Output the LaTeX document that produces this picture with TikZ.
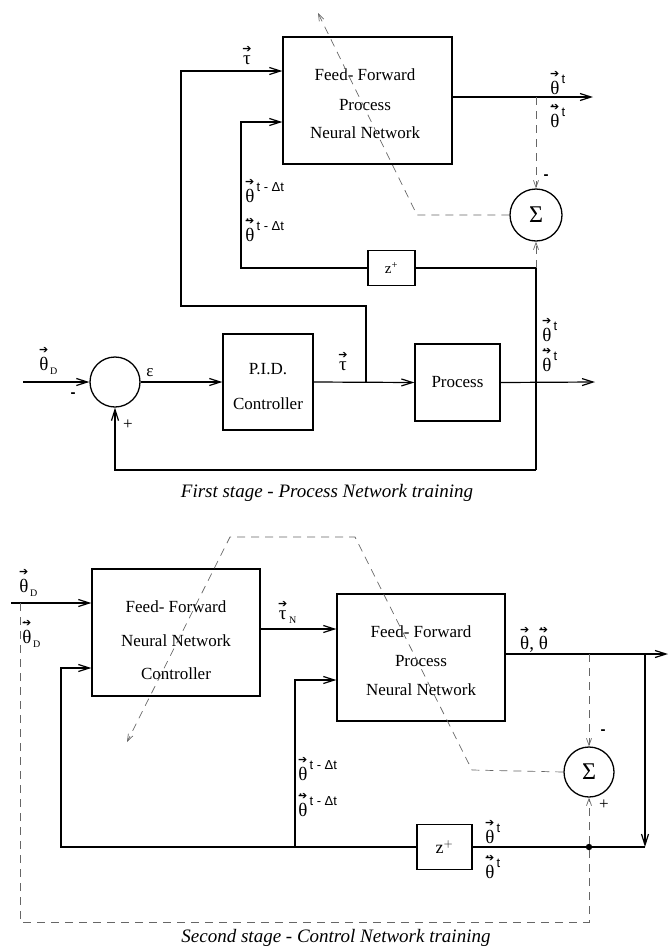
\documentclass[tikz,border=0pt]{standalone}
\usepackage{amsmath}
\usepackage{fontspec}
\setmainfont{Liberation Serif}
\newfontfamily\sfA{Liberation Sans}
\newfontfamily\dvs{DejaVu Sans}
\usetikzlibrary{arrows.meta}
\newcommand{\arr}{\text{\dvs\fontsize{11}{11}\selectfont ➔}}
\newcommand{\darr}{\text{\rlap{\raisebox{3.5pt}{\fontsize{16}{16}\selectfont\kern0.5pt.}}\dvs\fontsize{11}{11}\selectfont ➔}}
\newcommand{\thv}{$\overset{\arr}{\text{θ}}$}
\newcommand{\thdv}{$\overset{\darr}{\text{θ}}$}
\newcommand{\tav}{$\overset{\arr}{\text{τ}}$}
\newcommand{\supx}[1]{\raisebox{11pt}{\sfA\fontsize{13}{13}\selectfont\,#1}}
\newcommand{\subx}[1]{\raisebox{-4pt}{\fontsize{10}{10}\selectfont\,#1}}
\begin{document}
\begin{tikzpicture}[x=1pt,y=-1pt,font=\fontsize{17}{20}\selectfont,
  >={Straight Barb[length=11pt,width=7pt]},
  blk/.style={draw,line width=1.3pt,inner sep=0pt},
  sumc/.style={draw,circle,line width=1.3pt,inner sep=0pt,minimum size=#1},
  sumc/.default=50pt,
  wire/.style={line width=1.2pt},
  sig/.style={draw=black!60,line width=0.7pt,dash pattern=on 8pt off 6pt},
  sarr/.style={-{Straight Barb[length=7pt,width=5pt]}},
  lab/.style={inner sep=0pt,font=\fontsize{19}{21}\selectfont},
  sgn/.style={inner sep=0pt,font=\sfA\bfseries\fontsize{15}{15}\selectfont},
  captxt/.style={inner sep=0pt,font=\itshape\fontsize{19}{21}\selectfont}]
\useasboundingbox (0,0) rectangle (670,948);

% ================= First stage =================
\node[blk,minimum width=169pt,minimum height=127pt] (ffp1) at (367.5,100.5) {};
\node (ffp1a) at (365,75) {Feed- Forward};
\node (ffp1b) at (365,105) {Process};
\node (ffp1c) at (365,133) {Neural Network};
\node[sumc] (sum1) at (115,382) {};
\node[blk,minimum width=90pt,minimum height=96pt] (pid) at (268,382) {};
\node (pida) at (268,369) {P.I.D.};
\node (pidb) at (268,404) {Controller};
\node[blk,minimum width=85pt,minimum height=77pt] (proc) at (457.5,382.5) {Process};
\node[blk,minimum width=47pt,minimum height=35pt,font=\fontsize{15}{15}\selectfont] (z1) at (391.5,268) {z\textsuperscript{+}};
\node[sumc=52pt,font=\fontsize{24}{24}\selectfont] (sig1) at (536,215) {Σ};

\coordinate (thD1) at (23,382);
\draw[wire,->] (thD1) -- (sum1.west);
\draw[wire,->] (sum1.east) -- (pid.west);
\draw[wire,->] (pid.east) -- (proc.west);
\coordinate (out1) at (595,382);
\draw[wire,->] (proc.east) -- (out1);
\coordinate (tj) at (366,382);
\coordinate (tb) at (181,306);
\coordinate (tc) at (181,71);
\draw[wire,->] (tj) |- (tb) |- (ffp1.west |- tc);
\coordinate (bl1) at (536,470);
\draw[wire] (bl1) |- (z1.east);
\coordinate (zl1) at (241,122);
\draw[wire,->] (z1.west) -| (zl1) -- (ffp1.west |- zl1);
\draw[wire,->] (bl1) -| (sum1.south);
\coordinate (o1b) at (593,97);
\draw[wire,->] ([yshift=3.5pt]ffp1.east) -- (o1b);

\coordinate (d1) at (536,97);
\draw[sig,sarr] (d1) -- (sig1.north);
\coordinate (d2) at (536,268);
\draw[sig,sarr] (d2) -- (sig1.south);
\coordinate (bp1) at (417,215);
\coordinate (bp1t) at (318,13);
\draw[sig,sarr] (sig1.west) -- (bp1) -- (bp1t);

\node[lab] (l1) at (247,55) {\tav};
\node[lab,anchor=west] (l2) at (550,82) {\thv\supx{t}};
\node[lab,anchor=west] (l3) at (550,115) {\thdv\supx{t}};
\node[lab,anchor=west] (l4) at (245,190) {\thv\supx{t - Δt}};
\node[lab,anchor=west] (l5) at (245,229) {\thdv\supx{t - Δt}};
\node[sgn] (l6) at (546,177) {-};
\node[lab,anchor=west] (l7) at (542,329) {\thv\supx{t}};
\node[lab,anchor=west] (l8) at (542,359) {\thdv\supx{t}};
\node[lab] (l9) at (343,361) {\tav};
\node[lab,anchor=west] (l10) at (39,360) {\thv\subx{D}};
\node[sgn] (l11) at (73,395) {-};
\node (l12) at (150,373) {ε};
\node[inner sep=0pt] (l13) at (128,425) {+};
\node[captxt] (cap1) at (327,493) {First stage - Process Network training};

% ================= Second stage =================
\node[blk,minimum width=168pt,minimum height=127pt] (ctrl) at (176,632.5) {};
\node (ctrla) at (176,607) {Feed- Forward};
\node (ctrlb) at (176,641) {Neural Network};
\node (ctrlc) at (176,674) {Controller};
\node[blk,minimum width=168pt,minimum height=127pt] (ffp2) at (421,657.5) {};
\node (ffp2a) at (421,632) {Feed- Forward};
\node (ffp2b) at (421,661) {Process};
\node (ffp2c) at (421,690) {Neural Network};
\node[sumc] (sig2) at (589,772) {};
\node[font=\fontsize{24}{24}\selectfont] (sig2t) at (589,772) {Σ};
\node[blk,minimum width=55pt,minimum height=45pt,font=\fontsize{18}{18}\selectfont] (z2) at (444.5,847) {z$^{+}$};

\coordinate (thD2) at (11,603);
\draw[wire,->] (thD2) -- (ctrl.west |- thD2);
\coordinate (tn) at (260,629);
\draw[wire,->] (tn) -- (ffp2.west |- tn);
\coordinate (o2) at (505,654);
\coordinate (o2e) at (668,654);
\draw[wire,->] (o2) -- (o2e);
\coordinate (br) at (645,654);
\coordinate (brc) at (645,847);
\draw[wire,->] (br) -- (brc);
\coordinate (dot2) at (589,847);
\draw[wire] (brc) -- (dot2) -- (z2.east);
\coordinate (lb) at (61,847);
\coordinate (lt) at (61,668);
\draw[wire,->] (z2.west) -- (lb) -- (lt) -- (ctrl.west |- lt);
\coordinate (mj) at (295,847);
\coordinate (mt) at (295,680);
\draw[wire,->] (mj) -- (mt) -- (ffp2.west |- mt);
\fill (dot2) circle (3.2pt);

\coordinate (d3) at (589,654);
\draw[sig,sarr] (d3) -- (sig2.north);
\coordinate (dl1) at (20,603);
\coordinate (dl2) at (20,922);
\coordinate (dl3) at (589,922);
\draw[sig,sarr] (dl1) -- (dl2) -- (dl3) -- (sig2.south);
\coordinate (bq1) at (472,770);
\coordinate (bq2) at (355,537);
\coordinate (bq3) at (230,537);
\coordinate (bq4) at (127,742);
\draw[sig,sarr] (sig2.west) -- (bq1) -- (bq2) -- (bq3) -- (bq4);

\node[lab,anchor=west] (m1) at (19,582) {\thv\subx{D}};
\node[lab,anchor=west] (m2) at (22,633) {\thdv\subx{D}};
\node[lab,anchor=west] (m3) at (278,612) {\tav\subx{N}};
\node[lab] (m4) at (534,639) {\thv, \thdv};
\node[lab,anchor=west] (m5) at (298,768) {\thv\supx{t - Δt}};
\node[lab,anchor=west] (m6) at (298,804) {\thdv\supx{t - Δt}};
\node[sgn] (m7) at (603,732) {-};
\node[inner sep=0pt] (m8) at (604,805) {+};
\node[lab,anchor=west] (m9) at (485,831) {\thv\supx{t}};
\node[lab,anchor=west] (m10) at (485,866) {\thdv\supx{t}};
\node[captxt] (cap2) at (336,938) {Second stage - Control Network training};
\end{tikzpicture}
\end{document}
